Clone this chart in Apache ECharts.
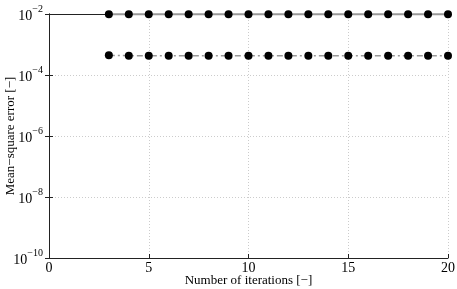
<!DOCTYPE html>
<html><head><meta charset="utf-8">
<script src="https://cdn.jsdelivr.net/npm/echarts@6/dist/echarts.min.js"></script>
<style>html,body{margin:0;padding:0;background:#fff}#c{width:457px;height:289px}</style>
</head><body><div id="c"></div>
<script>
const iterations = [3,4,5,6,7,8,9,10,11,12,13,14,15,16,17,18,19,20];
const seriesA = [0.0099,0.0099,0.0099,0.0099,0.0099,0.0099,0.0099,0.0099,0.0099,0.0099,0.0099,0.0099,0.0099,0.0099,0.0099,0.0099,0.0099,0.0099];
const seriesB = [4.4e-4,4.3e-4,4.3e-4,4.3e-4,4.3e-4,4.3e-4,4.3e-4,4.3e-4,4.3e-4,4.3e-4,4.3e-4,4.3e-4,4.3e-4,4.3e-4,4.3e-4,4.3e-4,4.3e-4,4.3e-4];
const xTicks = [0,5,10,15,20];
const yExps = [-10,-8,-6,-4,-2];

const font = 'Liberation Serif';
const chart = echarts.init(document.getElementById('c'), null, {renderer:'canvas'});
function pairs(xs, ys){ return xs.map((x,i)=>[x, ys[i]]); }
const frameAxis = {show:true,lineStyle:{color:'#222',width:1}};
const frameTick = {show:true,inside:true,length:4,lineStyle:{color:'#222'}};
chart.setOption({
  animation:false,
  grid:{left:49,right:9,top:14,bottom:31,containLabel:false,outerBoundsMode:'none',show:false},
  xAxis:[{type:'value',min:0,max:20,interval:5,
    name:'Number of iterations [\u2212]',nameLocation:'middle',nameGap:16,nameMoveOverlap:false,
    nameTextStyle:{fontFamily:font,fontSize:13,color:'#000'},
    axisLine:frameAxis,axisTick:frameTick,
    axisLabel:{fontFamily:font,fontSize:14,color:'#000',margin:3},
    splitLine:{show:true,lineStyle:{color:'#ccc',type:[1,2],width:1}}},
   {type:'value',position:'top',min:0,max:20,interval:5,
    axisLine:frameAxis,axisTick:frameTick,axisLabel:{show:false},splitLine:{show:false}}],
  yAxis:[{type:'log',logBase:10,min:1e-10,max:1e-2,interval:2,
    name:'Mean\u2212square error [\u2212]',nameLocation:'middle',nameGap:32,nameMoveOverlap:false,
    nameTextStyle:{fontFamily:font,fontSize:13,color:'#000'},
    axisLine:frameAxis,axisTick:frameTick,
    splitLine:{show:true,lineStyle:{color:'#ccc',type:[1,2],width:1}},
    axisLabel:{margin:6,formatter:function(v){
        const e=Math.round(Math.log10(v));
        return '{b|10}{s|'+(e<0?'\u2212':'')+Math.abs(e)+'}';},
      rich:{b:{fontFamily:font,fontSize:14,color:'#000',verticalAlign:'bottom'},
            s:{fontFamily:font,fontSize:10,color:'#000',verticalAlign:'top',padding:[0,0,9,0]}}}},
   {type:'log',logBase:10,position:'right',min:1e-10,max:1e-2,interval:2,
    axisLine:frameAxis,axisTick:frameTick,axisLabel:{show:false},splitLine:{show:false}}],
  series:[
    {type:'line',data:pairs(iterations,seriesA),symbol:'circle',symbolSize:8,z:3,
     itemStyle:{color:'#000'},lineStyle:{color:'#999',width:2,type:'solid'}},
    {type:'line',data:pairs(iterations,seriesB),symbol:'circle',symbolSize:8,z:3,
     itemStyle:{color:'#000'},lineStyle:{color:'#999',width:1.5,type:[6,3,2,3]}}
  ]
});
</script></body></html>
